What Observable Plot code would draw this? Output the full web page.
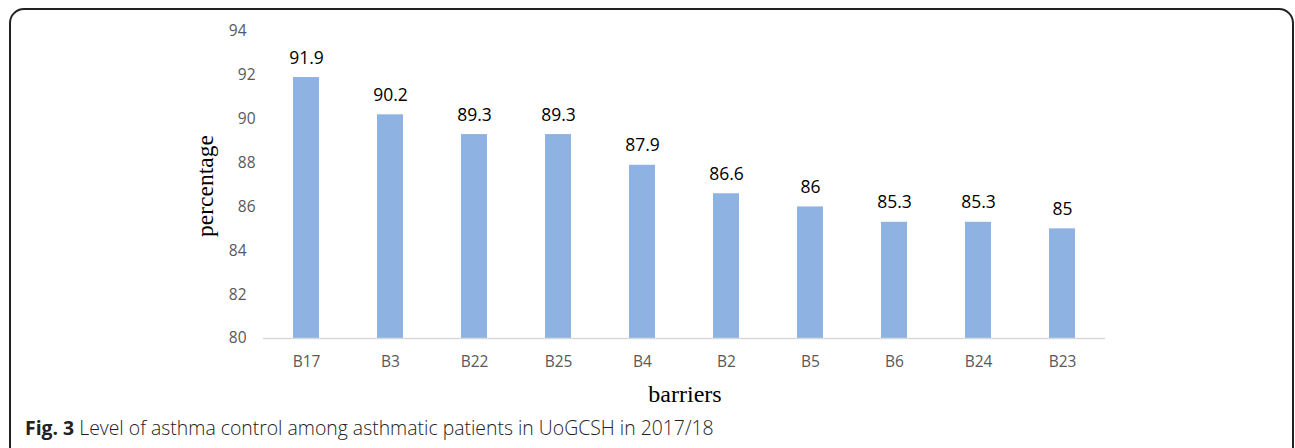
<!DOCTYPE html>
<html>
<head>
<meta charset="utf-8">
<script src="https://cdn.jsdelivr.net/npm/d3@7"></script>
<script src="https://cdn.jsdelivr.net/npm/@observablehq/plot@0.6"></script>
<style>
  html, body { margin: 0; padding: 0; background: #fff; }
  #wrap { position: relative; width: 1295px; height: 448px; overflow: hidden; }
  #frame { position: absolute; left: 9px; top: 8px; width: 1285px; height: 460px;
           border: 2px solid #222; border-radius: 15px; box-sizing: border-box; }
  #chart { position: absolute; left: 0; top: 0; }
  .ylab { position: absolute; left: 205px; top: 186px; transform: translate(-50%, -50%) rotate(-90deg);
          font-family: "Liberation Serif", serif; font-size: 23.5px; line-height: normal; color: #000; white-space: nowrap; }
  .xlab { position: absolute; left: 685px; top: 394px; transform: translate(-50%, -50%);
          font-family: "Liberation Serif", serif; font-size: 24px; line-height: normal; color: #000; white-space: nowrap; }
  .cap { position: absolute; left: 25px; top: 414px; font-family: "Open Sans", sans-serif; line-height: normal;
         font-size: 19.4px; color: #222; white-space: nowrap; font-weight: 300; }
  .cap b { font-weight: 700; }
</style>
</head>
<body>
<div id="wrap">
  <div id="frame"></div>
  <div id="chart"></div>
  <div class="ylab">percentage</div>
  <div class="xlab">barriers</div>
  <div class="cap"><b>Fig. 3</b> Level of asthma control among asthmatic patients in UoGCSH in 2017/18</div>
</div>
<script>
const barriers = ["B17", "B3", "B22", "B25", "B4", "B2", "B5", "B6", "B24", "B23"];
const percentages = [91.9, 90.2, 89.3, 89.3, 87.9, 86.6, 86, 85.3, 85.3, 85];
const yTicksNear = [86, 88, 90, 92];
const yTicksFar = [80, 82, 84, 94];

const data = barriers.map((b, i) => ({barrier: b, value: percentages[i]}));

const tickFont = {fontSize: 15.5, fontFamily: "Open Sans, sans-serif", fill: "#595959"};

const chart = Plot.plot({
  width: 1295,
  height: 400,
  marginLeft: 263,
  marginRight: 190,
  marginTop: 31,
  marginBottom: 62,
  style: {background: "transparent", overflow: "visible"},
  x: {domain: barriers, paddingInner: 0.69, paddingOuter: 0.345, label: null},
  y: {domain: [80, 94], label: null},
  marks: [
    Plot.barY(data, {x: "barrier", y1: 80, y2: "value", fill: "#8EB3E2"}),
    Plot.ruleY([80], {stroke: "#D9D9D9", strokeWidth: 1.3}),
    Plot.axisY({ticks: yTicksNear, tickSize: 0, tickPadding: 8, label: null, tickFormat: d => String(d), ...tickFont}),
    Plot.axisY({ticks: yTicksFar, tickSize: 0, tickPadding: 17, label: null, tickFormat: d => String(d), ...tickFont}),
    Plot.axisX({tickSize: 0, tickPadding: 17, label: null, ...tickFont}),
    Plot.text(data, {x: "barrier", y: "value", text: d => String(d.value), lineAnchor: "bottom", dy: -14,
      fontSize: 17.5, fontFamily: "Open Sans, sans-serif", fill: "#000"})
  ]
});
document.getElementById("chart").appendChild(chart);
</script>
</body>
</html>
